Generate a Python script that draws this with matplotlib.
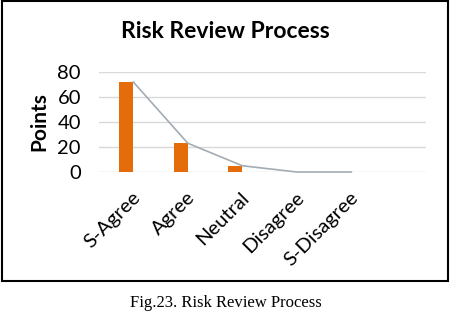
import matplotlib
matplotlib.use("Agg")
import matplotlib.pyplot as plt
from matplotlib.patches import Rectangle

categories = ["S-Agree", "Agree", "Neutral", "Disagree", "S-Disagree", ""]
bar_values = [72, 23, 5, 0, 0, None]
line_values = [72, 23, 5, 0, 0]
yticks = [0, 20, 40, 60, 80]

title = "Risk Review Process"
ylabel = "Points"
caption = "Fig.23. Risk Review Process"

plt.rcParams['font.family'] = ['Lato', 'DejaVu Sans']

fig = plt.figure(figsize=(4.5, 3.13), dpi=100)
ax = fig.add_axes([99/450, 1 - 172/313, 327/450, 100/313])

x = list(range(len(categories)))
bx = [i for i, v in zip(x, bar_values) if v is not None]
bv = [v for v in bar_values if v is not None]
ax.bar(bx, bv, width=0.25, color="#E46C0A", zorder=3)
lx = [i + 0.13 for i in range(len(line_values))]
ax.plot(lx, line_values, color="#A3ABB5", lw=1.2, zorder=4, clip_on=False)

ax.set_xlim(-0.5, len(categories) - 0.5)
ax.set_ylim(0, 80)
ax.set_yticks(yticks)
ax.set_yticklabels([str(t) for t in yticks], fontsize=14.5)
ax.set_xticks(x)
ax.set_xticklabels(categories, rotation=45, ha="right", rotation_mode="anchor", fontsize=14.5)
ax.tick_params(axis="both", length=0)
ax.tick_params(axis="x", pad=12)
ax.tick_params(axis="y", pad=13)
ax.grid(axis="y", color="#D9D9D9", lw=1, zorder=0)
for s in ax.spines.values():
    s.set_visible(False)
for lbl in ax.get_xticklabels():
    lbl.set_x(lbl.get_position()[0])
from matplotlib.transforms import ScaledTranslation
off = ScaledTranslation(4/72, 0, fig.dpi_scale_trans)
for lbl in ax.get_xticklabels():
    lbl.set_transform(lbl.get_transform() + off)

ax.set_ylabel(ylabel, fontsize=15, fontweight="bold")
ax.yaxis.set_label_coords(-0.153, 0.5)

fig.text(225/450, 1 - 32/313, title, ha="center", va="center", fontsize=16.5, fontweight="bold")
fig.text(226/450, 1 - 303/313, caption, ha="center", va="center", fontsize=12, family="Liberation Serif")

fig.patches.append(Rectangle((2/450, 1 - 281/313), 446/450, 280/313, transform=fig.transFigure,
                             fill=False, edgecolor="black", lw=1.5))

fig.savefig("out.png", dpi=100)
